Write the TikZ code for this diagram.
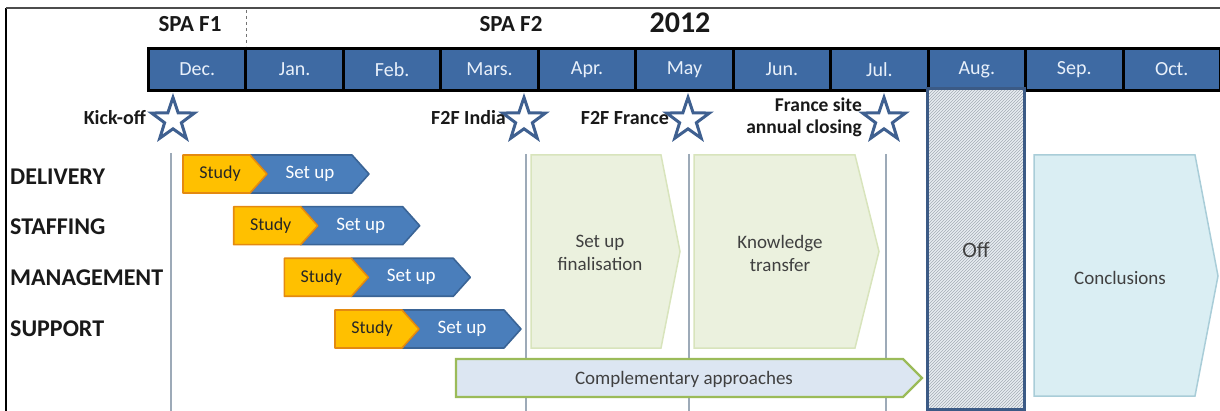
\documentclass[tikz,border=0pt]{standalone}
\usepackage{fontspec}
\setmainfont{Carlito}
\usetikzlibrary{shapes.geometric,patterns}
\definecolor{monthblue}{HTML}{3E6AA3}
\definecolor{monthtxt}{HTML}{E8F0FA}
\definecolor{studyfill}{HTML}{FFC000}
\definecolor{studydraw}{HTML}{E48A10}
\definecolor{setupfill}{HTML}{4A7EBB}
\definecolor{setupdraw}{HTML}{3A6496}
\definecolor{greenfill}{HTML}{EBF1DE}
\definecolor{greendraw}{HTML}{D8E4BC}
\definecolor{compfill}{HTML}{DCE6F2}
\definecolor{compdraw}{HTML}{9BBB59}
\definecolor{conclfill}{HTML}{DAEEF3}
\definecolor{concldraw}{HTML}{A9CDD8}
\definecolor{offdraw}{HTML}{3B5A85}
\definecolor{offfill}{HTML}{E8EDF2}
\definecolor{hatchcol}{HTML}{A4ACB4}
\definecolor{starcol}{HTML}{3F6090}
\definecolor{vlinecol}{HTML}{9DAAB8}
\definecolor{boxtxt}{HTML}{404040}
\begin{document}
\begin{tikzpicture}[x=1pt,y=-1pt,
  monthcell/.style={draw=black, line width=3pt, fill=monthblue, text=monthtxt,
    font=\fontsize{20}{20}\selectfont, minimum width=97.45pt, minimum height=42pt,
    inner sep=0pt, anchor=north west},
  hdr/.style={font=\bfseries\fontsize{23}{23}\selectfont, text=black!90, inner sep=0pt},
  rowlab/.style={font=\bfseries\fontsize{24}{24}\selectfont, text=black!90, anchor=west, inner sep=0pt},
  evlab/.style={font=\bfseries\fontsize{20}{22}\selectfont, text=black!90, anchor=east, inner sep=0pt, align=right},
  evstar/.style={star, star points=5, star point ratio=2.55, minimum size=45pt, inner sep=0pt,
    draw=starcol, line width=3pt, fill=white},
  vline/.style={draw=vlinecol, line width=1.4pt},
  studyshape/.style={fill=studyfill, draw=studydraw, line width=1.6pt, line join=round},
  setupshape/.style={fill=setupfill, draw=setupdraw, line width=1.6pt, line join=round},
  studytxt/.style={font=\fontsize{18}{18}\selectfont, text=black!85, inner sep=0pt},
  setuptxt/.style={font=\fontsize{19}{19}\selectfont, text=white, inner sep=0pt},
  greenshape/.style={fill=greenfill, draw=greendraw, line width=1.5pt},
  boxlab/.style={font=\fontsize{19}{23}\selectfont, text=boxtxt, align=center, inner sep=0pt}
]
\useasboundingbox (0,0) rectangle (1220,411);
% frame
\draw[black, line width=2pt] (6,411) -- (6,8);
\draw[black!70, line width=1.2pt] (6,8) -- (1220,8);
% dashed separator
\draw[black!55, line width=0.8pt, dash pattern=on 3pt off 3pt] (246,10) -- (246,46);
% headers
\node[hdr] (spa1) at (190,24) {SPA F1};
\node[hdr] (spa2) at (511,24) {SPA F2};
\node[hdr, font=\bfseries\fontsize{30}{30}\selectfont] (year) at (680,23) {2012};
% months
\foreach \m [count=\i from 0] in {Dec.,Jan.,Feb.,Mars.,Apr.,May,Jun.,Jul.,Aug.,Sep.,Oct.}{
  \node[monthcell] (m\i) at ({147+97.45*\i},47) {\m};
}
% vertical lines
\draw[vline] (171,153) -- (171,411);
\draw[vline] (526,154) -- (526,411);
\draw[vline] (689,154) -- (689,411);
\draw[vline] (886,154) -- (886,411);
% stars and event labels
\node[evstar] (st1) at (173,120) {};
\node[evstar] (st2) at (524,120) {};
\node[evstar] (st3) at (688,120) {};
\node[evstar] (st4) at (884,120) {};
\node[evlab] (ev1) at (146,118) {Kick-off};
\node[evlab] (ev2) at (506,118) {F2F India};
\node[evlab] (ev3) at (669,118) {F2F France};
\node[evlab, font=\bfseries\fontsize{19.5}{22}\selectfont] (ev4) at (862,117) {France site\\annual closing};
% row labels
\node[rowlab] (r1) at (10,177) {DELIVERY};
\node[rowlab] (r2) at (10,227) {STAFFING};
\node[rowlab] (r3) at (10,278) {MANAGEMENT};
\node[rowlab] (r4) at (10,329) {SUPPORT};
% chevrons
\foreach \i/\x/\y in {1/183/155, 2/233.7/206.7, 3/284.3/258.3, 4/335/310}{
  \draw[setupshape] (\x+67,\y) -- (\x+169,\y) -- (\x+186,\y+19) -- (\x+169,\y+38)
     -- (\x+67,\y+38) -- (\x+84,\y+19) -- cycle;
  \draw[studyshape] (\x,\y) -- (\x+67,\y) -- (\x+84,\y+19) -- (\x+67,\y+38) -- (\x,\y+38) -- cycle;
  \node[studytxt] (s\i) at (\x+37,\y+19) {Study};
  \node[setuptxt] (u\i) at (\x+127,\y+19) {Set up};
}
% big green phases
\draw[greenshape] (531,155) -- (661,155) -- (680,251.5) -- (661,348) -- (531,348) -- cycle;
\node[boxlab] (fin) at (600,253) {Set up\\finalisation};
\draw[greenshape] (694,155) -- (855,155) -- (879,251.5) -- (855,348) -- (694,348) -- cycle;
\node[boxlab] (kt) at (780,253) {Knowledge\\transfer};
% complementary approaches
\draw[fill=compfill, draw=compdraw, line width=2.2pt] (456,359) -- (903,359) -- (922,378) -- (903,397) -- (456,397) -- cycle;
\node[boxlab] (comp) at (684,379) {Complementary approaches};
% off
\fill[offfill] (927,89) rectangle (1024,409);
\fill[pattern=north east lines, pattern color=hatchcol] (927,89) rectangle (1024,409);
\draw[draw=offdraw, line width=3pt] (927,89) rectangle (1024,409);
\node[boxlab, font=\fontsize{22}{22}\selectfont] (off) at (976,250) {Off};
% conclusions
\draw[fill=conclfill, draw=concldraw, line width=1.5pt] (1034,155) -- (1195,155) -- (1218,276) -- (1195,396) -- (1034,396) -- cycle;
\node[boxlab] (concl) at (1120,278) {Conclusions};
\end{tikzpicture}
\end{document}
